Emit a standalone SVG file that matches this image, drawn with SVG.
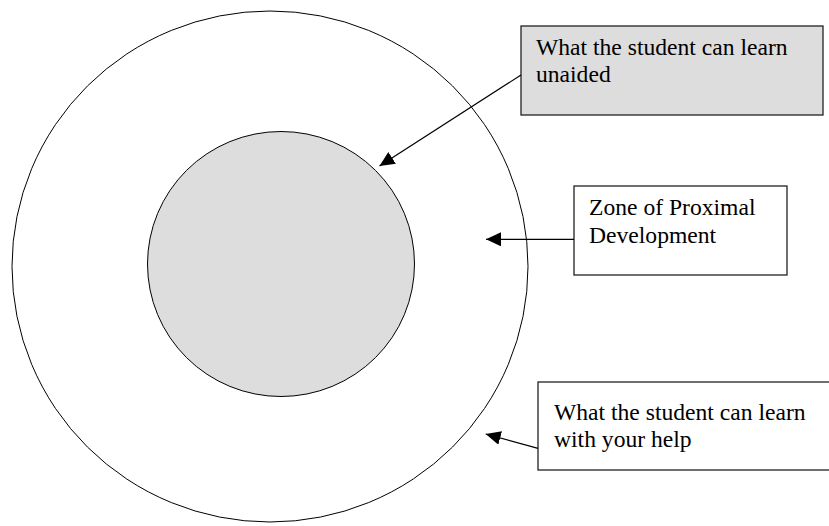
<svg xmlns="http://www.w3.org/2000/svg" width="829" height="526" viewBox="0 0 829 526">
<style>
.circ{stroke:#000;stroke-width:1}
.box{stroke:#222;stroke-width:1.3}
.lbl{font-family:"Liberation Serif","Times New Roman",serif;font-size:23.6px;fill:#000}
.con{stroke:#000;stroke-width:1.2;fill:none;marker-end:url(#ah)}
</style>
<defs>
<marker id="ah" viewBox="0 0 15 14" refX="15" refY="7" markerWidth="15" markerHeight="14" markerUnits="userSpaceOnUse" orient="auto">
<path d="M0,0 L15,7 L0,14 Z" fill="#000"/>
</marker>
</defs>
<rect width="829" height="526" fill="#fff"/>
<g id="outer-circle"><ellipse class="circ" cx="270" cy="266.5" rx="258" ry="255.5" fill="#fff"/></g>
<g id="inner-circle"><ellipse class="circ" cx="281" cy="264" rx="133.5" ry="132.5" fill="#dddddd"/></g>
<g id="box-unaided">
<rect class="box" x="521" y="26" width="302" height="89" fill="#dddddd"/>
<text class="lbl" x="536" y="54.5">What the student can learn</text>
<text class="lbl" x="536" y="82">unaided</text>
</g>
<g id="box-zpd">
<rect class="box" x="574" y="186" width="213" height="89" fill="#fff"/>
<text class="lbl" x="589" y="215">Zone of Proximal</text>
<text class="lbl" x="589" y="243">Development</text>
</g>
<g id="box-help">
<rect class="box" x="538" y="382" width="300" height="88" fill="#fff"/>
<text class="lbl" x="554" y="420">What the student can learn</text>
<text class="lbl" x="554" y="447">with your help</text>
</g>
<g id="connectors">
<line class="con" x1="521" y1="75" x2="379.5" y2="166"/>
<line class="con" x1="574" y1="239.3" x2="486" y2="239.3"/>
<line class="con" x1="538" y1="448.3" x2="485.7" y2="434"/>
</g>
</svg>
